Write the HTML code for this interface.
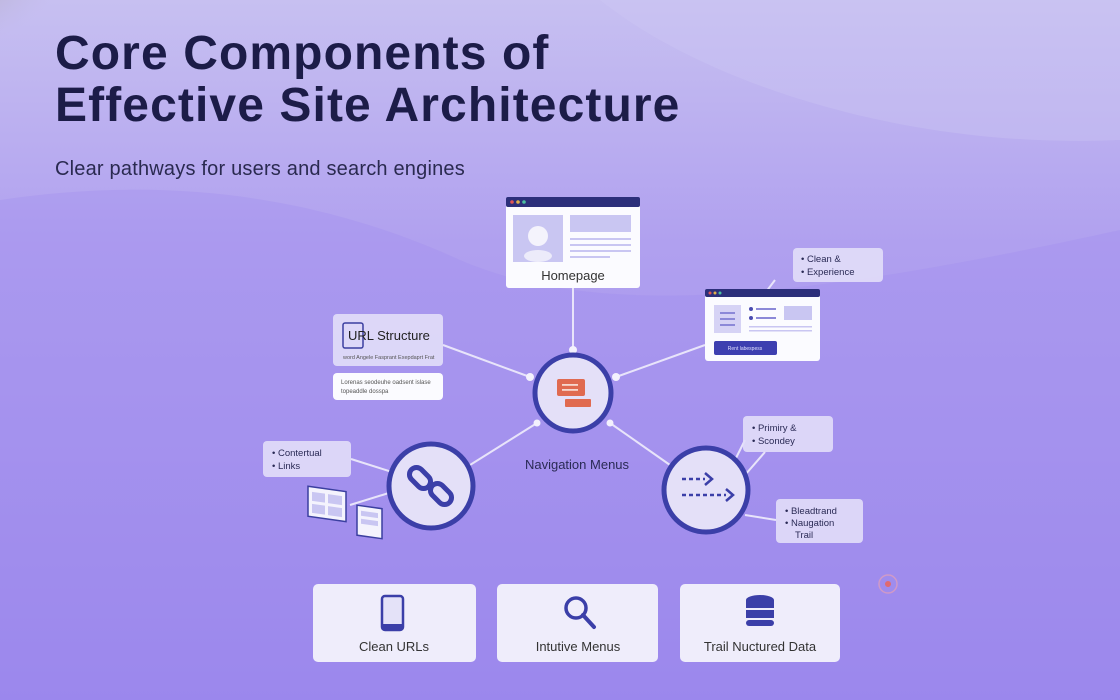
<!DOCTYPE html>
<html><head><meta charset="utf-8"><style>
html,body{margin:0;padding:0;width:1120px;height:700px;overflow:hidden}
svg{display:block}
text{font-family:"Liberation Sans",sans-serif}
</style></head><body>
<svg width="1120" height="700" viewBox="0 0 1120 700" xmlns="http://www.w3.org/2000/svg">
<defs>
<linearGradient id="bg" x1="0" y1="0" x2="0" y2="1">
<stop offset="0" stop-color="#c7c0f1"/><stop offset="0.35" stop-color="#b0a0ef"/><stop offset="1" stop-color="#9a86ec"/>
</linearGradient>
<radialGradient id="corner" cx="0" cy="0" r="1"><stop offset="0" stop-color="#9d9a7a"/><stop offset="1" stop-color="#b9b0d8" stop-opacity="0"/></radialGradient>
</defs>
<rect width="1120" height="700" fill="url(#bg)"/>
<ellipse cx="0" cy="0" rx="70" ry="50" fill="url(#corner)"/>
<path d="M0 200 C200 170 350 210 460 260 C600 320 800 300 1120 230 L1120 700 L0 700Z" fill="#a08cee" opacity="0.3"/>
<path d="M600 0 C700 80 900 150 1120 140 L1120 0Z" fill="#cfc8f3" opacity="0.35"/>

<text x="55" y="69" font-size="48" font-weight="bold" fill="#1c1c48" letter-spacing="1.1">Core Components of</text>
<text x="55" y="121" font-size="48" font-weight="bold" fill="#1c1c48" letter-spacing="1.1">Effective Site Architecture</text>
<text x="55" y="175" font-size="20" fill="#2a2a50" letter-spacing="0.2">Clear pathways for users and search engines</text>

<g stroke="#e8e4fa" stroke-width="2" fill="none">
<line x1="573" y1="288" x2="573" y2="350"/>
<line x1="443" y1="345" x2="530" y2="377"/>
<line x1="616" y1="377" x2="705" y2="345"/>
<line x1="537" y1="423" x2="470" y2="465"/>
<line x1="610" y1="423" x2="670" y2="465"/>
<line x1="351" y1="459" x2="392" y2="472"/>
<line x1="350" y1="505" x2="392" y2="492"/>
<path d="M775 280 L760 300"/><path d="M745 440 L735 460"/><path d="M765 452 L745 475"/><line x1="745" y1="515" x2="776" y2="520"/>
</g>
<g fill="#f3f1fd"><circle cx="573" cy="350" r="4"/><circle cx="530" cy="377" r="4"/><circle cx="616" cy="377" r="4"/><circle cx="537" cy="423" r="3.5"/><circle cx="610" cy="423" r="3.5"/></g>

<rect x="506" y="197" width="134" height="91" rx="3" fill="#fbfbff"/>
<rect x="506" y="197" width="134" height="10" rx="2" fill="#2c2f7a"/>
<circle cx="512" cy="202" r="1.8" fill="#e05555"/><circle cx="518" cy="202" r="1.8" fill="#e0b04a"/><circle cx="524" cy="202" r="1.8" fill="#4ac0a0"/>
<rect x="513" y="215" width="50" height="47" fill="#c9c6f2"/>
<circle cx="538" cy="236" r="10" fill="#f4f3fc"/><ellipse cx="538" cy="256" rx="14" ry="6" fill="#ecebfa"/>
<rect x="570" y="215" width="61" height="17" fill="#c9c6f2"/>
<g fill="#c9c6f2"><rect x="570" y="238" width="61" height="2"/><rect x="570" y="244" width="61" height="2"/><rect x="570" y="250" width="61" height="2"/><rect x="570" y="256" width="40" height="2"/></g>
<text x="573" y="280" font-size="13" fill="#333" text-anchor="middle">Homepage</text>

<rect x="333" y="314" width="110" height="52" rx="4" fill="#e2def8" opacity="0.9"/>
<rect x="343" y="323" width="20" height="25" rx="2" fill="none" stroke="#3b3fa0" stroke-width="1.5"/>
<text x="348" y="340" font-size="13" fill="#222">URL Structure</text>
<text x="343" y="359" font-size="5.5" fill="#555">word Angele Fasprant Exepdaprt Frat</text>
<rect x="333" y="373" width="110" height="27" rx="4" fill="#fbfbff"/>
<text x="341" y="384" font-size="6" fill="#555">Lorenas seodeuhe oadsent islase</text>
<text x="341" y="393" font-size="6" fill="#555">topeaddle dosspa</text>

<rect x="705" y="289" width="115" height="72" rx="3" fill="#fbfbff"/>
<rect x="705" y="289" width="115" height="8" rx="2" fill="#2c2f7a"/>
<circle cx="710" cy="293" r="1.5" fill="#e05555"/><circle cx="715" cy="293" r="1.5" fill="#e0b04a"/><circle cx="720" cy="293" r="1.5" fill="#4ac0a0"/>
<rect x="714" y="305" width="27" height="28" fill="#d6d3f5"/>
<g fill="#8c89d8"><rect x="720" y="312" width="15" height="2"/><rect x="720" y="318" width="15" height="2"/><rect x="720" y="324" width="15" height="2"/></g>
<circle cx="751" cy="309" r="2" fill="#4a4cb0"/><rect x="756" y="308" width="20" height="2" fill="#8c89d8"/>
<circle cx="751" cy="318" r="2" fill="#4a4cb0"/><rect x="756" y="317" width="20" height="2" fill="#8c89d8"/>
<rect x="784" y="306" width="28" height="14" fill="#c9c6f2"/>
<rect x="749" y="326" width="63" height="1.5" fill="#c9c6f2"/><rect x="749" y="330" width="63" height="1.5" fill="#c9c6f2"/>
<rect x="714" y="341" width="63" height="14" rx="2" fill="#3d3fb0"/>
<text x="745" y="350" font-size="5" fill="#e0e0ff" text-anchor="middle">Rent labespess</text>

<g font-size="9.5" fill="#2a2a55">
<rect x="793" y="248" width="90" height="34" rx="4" fill="#e2def8" opacity="0.9"/>
<text x="801" y="262">•  Clean &amp;</text><text x="801" y="275">•  Experience</text>
<rect x="743" y="416" width="90" height="36" rx="4" fill="#e2def8" opacity="0.9"/>
<text x="752" y="431">•  Primiry &amp;</text><text x="752" y="444">•  Scondey</text>
<rect x="776" y="499" width="87" height="44" rx="4" fill="#e2def8" opacity="0.9"/>
<text x="785" y="514">•  Bleadtrand</text><text x="785" y="526">•  Naugation</text><text x="795" y="538">Trail</text>
<rect x="263" y="441" width="88" height="36" rx="4" fill="#e2def8" opacity="0.9"/>
<text x="272" y="456">•  Contertual</text><text x="272" y="469">•  Links</text>
</g>

<g transform="skewY(8)">
<rect x="308" y="443" width="38" height="30" fill="#f4f3fd" stroke="#3b3fa0" stroke-width="1.5"/>
<rect x="312" y="448" width="13" height="9" fill="#c9c6f2"/><rect x="328" y="448" width="14" height="9" fill="#c9c6f2"/><rect x="312" y="460" width="13" height="9" fill="#c9c6f2"/><rect x="328" y="460" width="14" height="9" fill="#c9c6f2"/>
<rect x="357" y="455" width="25" height="30" fill="#f4f3fd" stroke="#3b3fa0" stroke-width="1.5"/>
<rect x="361" y="460" width="17" height="5" fill="#c9c6f2"/><rect x="361" y="468" width="17" height="5" fill="#c9c6f2"/>
</g>

<circle cx="573" cy="393" r="38" fill="#e4e0f8" stroke="#3b3fa8" stroke-width="5"/>
<rect x="557" y="379" width="28" height="17" rx="2" fill="#e06a50"/>
<g fill="#f6d8cf"><rect x="562" y="384" width="16" height="1.8"/><rect x="562" y="389" width="16" height="1.8"/></g>
<rect x="565" y="399" width="26" height="8" rx="1" fill="#e06a50"/>
<circle cx="431" cy="486" r="42" fill="#e4e0f8" stroke="#3b3fa8" stroke-width="5"/>
<g fill="none" stroke="#3b3fa8" stroke-width="5" stroke-linecap="round">
<rect x="413" y="466" width="14" height="24" rx="7" transform="rotate(-45 420 478)"/>
<rect x="434" y="482" width="14" height="24" rx="7" transform="rotate(-45 441 494)"/>
</g>
<circle cx="706" cy="490" r="42" fill="#e4e0f8" stroke="#3b3fa8" stroke-width="5"/>
<g stroke="#3b3fa8" stroke-width="2.5" fill="none">
<line x1="682" y1="479" x2="705" y2="479" stroke-dasharray="4 3"/><path d="M705 473 L712 479 L705 485"/>
<line x1="682" y1="495" x2="726" y2="495" stroke-dasharray="4 3"/><path d="M726 489 L733 495 L726 501"/>
</g>
<text x="577" y="469" font-size="13" fill="#2a2a55" text-anchor="middle">Navigation Menus</text>

<circle cx="888" cy="584" r="9" fill="none" stroke="#e4a0b8" stroke-width="1.5" opacity="0.7"/><circle cx="888" cy="584" r="3" fill="#e06a70"/>

<g>
<rect x="313" y="584" width="163" height="78" rx="5" fill="#efedfb"/>
<rect x="382" y="596" width="21" height="34" rx="3" fill="#e4e2f8" stroke="#3b3fa8" stroke-width="2.5"/>
<rect x="382" y="624" width="21" height="6" fill="#3b3fa8"/>
<text x="394" y="651" font-size="13" fill="#333" text-anchor="middle">Clean URLs</text>
<rect x="497" y="584" width="161" height="78" rx="5" fill="#efedfb"/>
<circle cx="576" cy="608" r="10" fill="none" stroke="#3b3fa8" stroke-width="3.5"/>
<line x1="583" y1="615" x2="594" y2="627" stroke="#3b3fa8" stroke-width="4" stroke-linecap="round"/>
<text x="578" y="651" font-size="13" fill="#333" text-anchor="middle">Intutive Menus</text>
<rect x="680" y="584" width="160" height="78" rx="5" fill="#efedfb"/>
<g fill="#3b3fa8"><ellipse cx="760" cy="600" rx="14" ry="5"/><rect x="746" y="600" width="28" height="8"/><rect x="746" y="610" width="28" height="8"/><rect x="746" y="620" width="28" height="6" rx="3"/></g>
<text x="760" y="651" font-size="13" fill="#333" text-anchor="middle">Trail Nuctured Data</text>
</g>
</svg>
</body></html>
